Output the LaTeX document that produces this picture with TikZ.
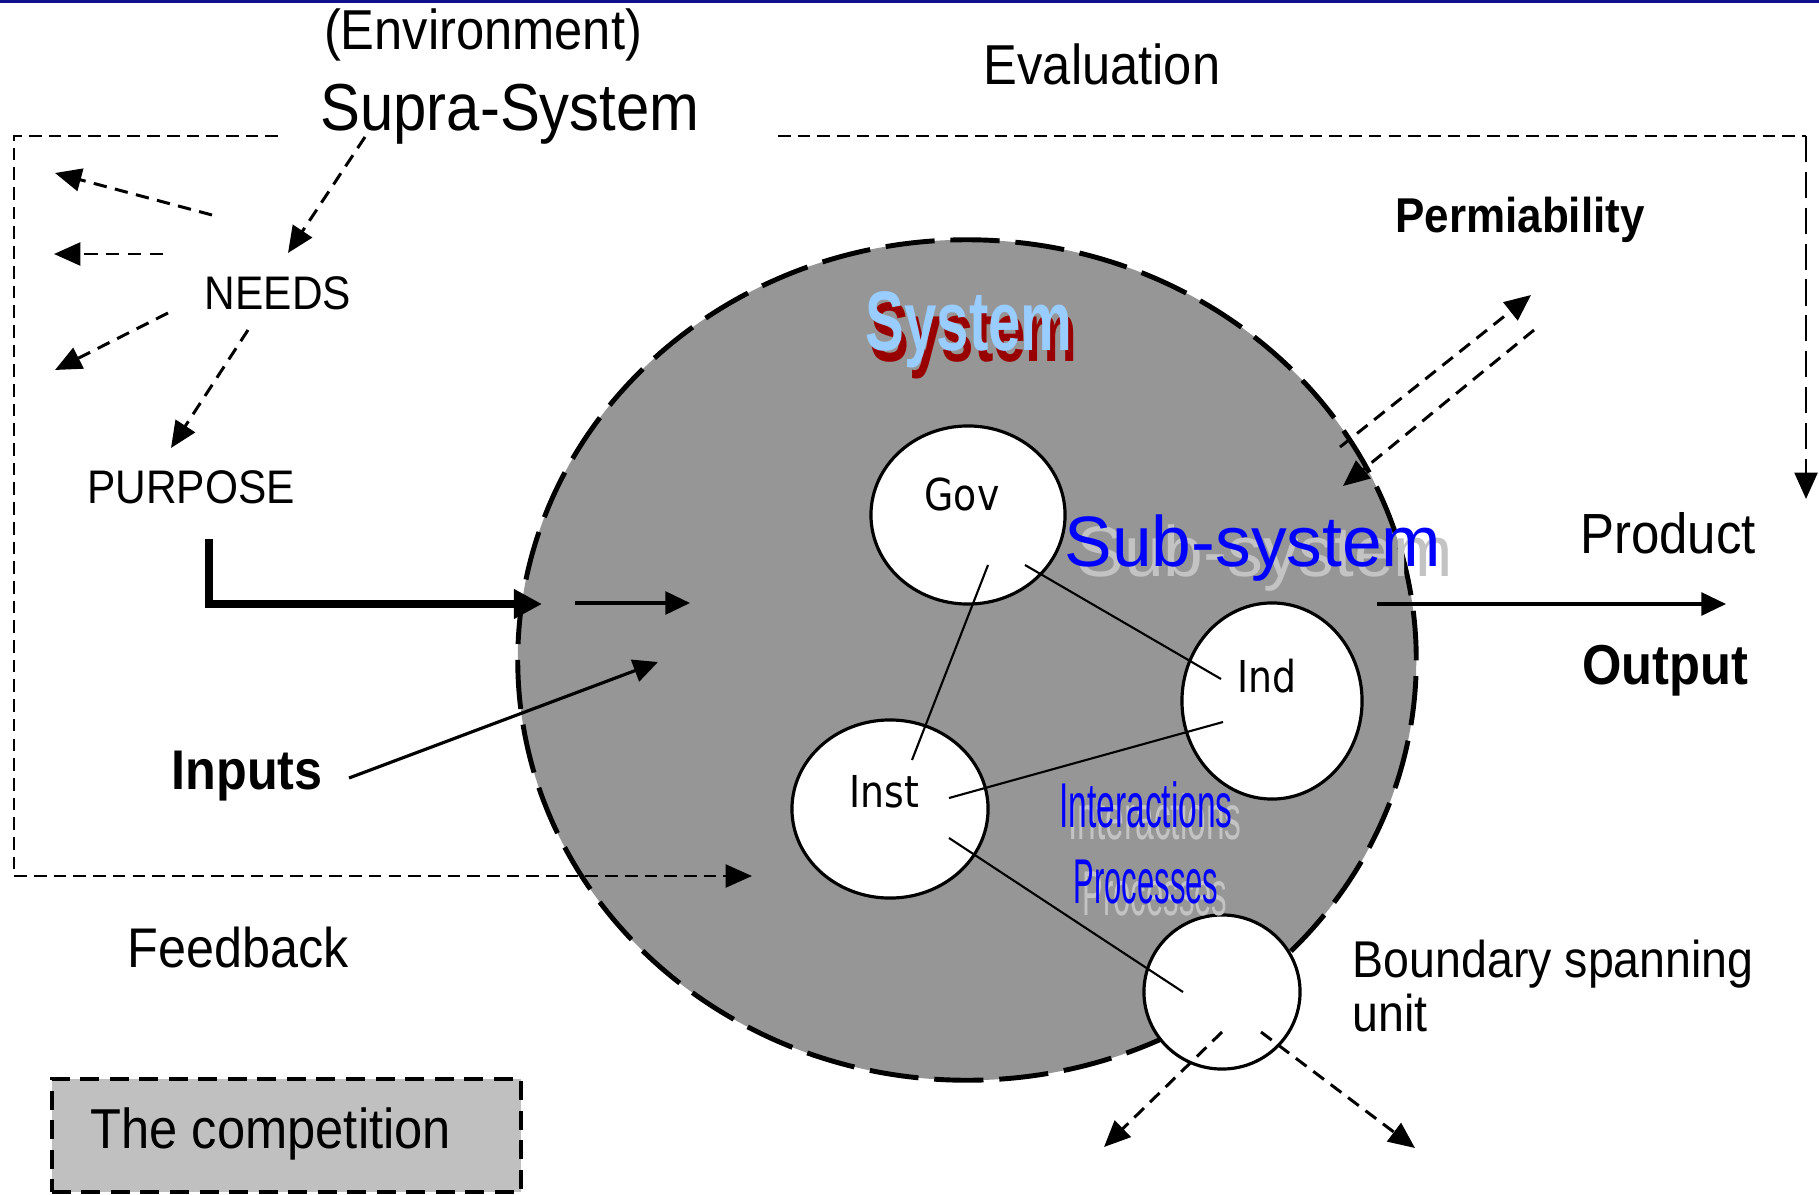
\documentclass[tikz,border=0pt]{standalone}
\usepackage{fontspec}
\setmainfont{Liberation Sans}[FakeStretch=0.9]
\newfontfamily\tahfont{DejaVu Sans}[FakeStretch=0.86]
\newfontfamily\arlfont{Liberation Sans}
\usetikzlibrary{arrows.meta,shapes.geometric,calc}
\definecolor{navyline}{RGB}{16,16,140}
\definecolor{sysgray}{RGB}{150,150,150}
\definecolor{compgray}{RGB}{192,192,192}
\definecolor{lightblue}{RGB}{153,204,255}
\definecolor{darkred}{RGB}{153,0,0}
\definecolor{shadowgray}{RGB}{195,195,195}
\newcommand\fsz[1]{\fontsize{#1}{#1}\selectfont}
\begin{document}
\begin{tikzpicture}[x=0.01cm,y=-0.01cm,
  txt/.style={inner sep=0pt, anchor=base},
  ell/.style={ellipse, draw, fill=white, line width=0.9pt, inner sep=0pt},
  link/.style={line width=0.6pt},
  dasharr/.style={line width=0.85pt, dash pattern=on 3.8pt off 2.4pt, -{Triangle[length=7.5pt,width=6.5pt]}},
  framel/.style={line width=0.8pt, dash pattern=on 3.6pt off 2pt},
  thinarr/.style={line width=0.9pt, -{Triangle[length=7pt,width=6.5pt]}}
]
\useasboundingbox (0,0) rectangle (1819,1194);
\fill[navyline] (0,0) rectangle (1819,3);

% frame coordinates
\coordinate (fTLe) at (278,136);
\coordinate (fTL) at (14,136);
\coordinate (fBL) at (14,876);
\coordinate (fBtip) at (752,876);
\coordinate (fTRs) at (778,136);
\coordinate (fTR) at (1806,136);
\coordinate (fRtip) at (1806,499);

% system circle
\node[ellipse, fill=sysgray, draw, line width=1.4pt, dash pattern=on 14pt off 4.5pt,
      minimum width=8.98cm, minimum height=8.4cm, inner sep=0pt] (system) at (967,660) {};

% competition box
\node[draw, fill=compgray, line width=1.1pt, dash pattern=on 5.4pt off 3pt,
      minimum width=4.69cm, minimum height=1.13cm, inner sep=0pt] (compbox) at (286.5,1135.5) {};
\node[txt, anchor=base west, font=\fsz{16}] (comp) at (90,1148) {The competition};

% frame lines
\draw[framel, -{Triangle[length=7.5pt,width=6.5pt]}] (fTLe) -- (fTL) -- (fBL) -- (fBtip);
\draw[framel] (fTRs) -- (fTR);
\draw[line width=0.8pt, dash pattern=on 7.4pt off 2.8pt, -{Triangle[length=7.5pt,width=6.5pt]}] (fTR) -- (fRtip);

% subsystem ellipses
\node[ell, minimum width=1.94cm, minimum height=1.78cm] (gov) at (968,515) {};
\node[ell, minimum width=1.80cm, minimum height=1.96cm] (ind) at (1272,701) {};
\node[ell, minimum width=1.96cm, minimum height=1.78cm] (inst) at (890,809) {};
\node[ell, minimum width=1.56cm, minimum height=1.54cm] (bsu) at (1222,992) {};

% links
\draw[link] ($(gov.center)+(20,50)$) -- ($(inst.center)+(22,-49)$);
\draw[link] ($(gov.center)+(57,50)$) -- ($(ind.center)+(-51,-22)$);
\draw[link] ($(inst.center)+(59,-11)$) -- ($(ind.center)+(-49,21)$);
\draw[link] ($(inst.center)+(59,29)$) -- ($(bsu.center)+(-39,0)$);

% node labels
\node[txt, font=\tahfont\fsz{12.5}] (govt) at (962,510) {Gov};
\node[txt, font=\tahfont\fsz{12.5}] (indt) at (1267,692) {Ind};
\node[txt, font=\tahfont\fsz{12.5}] (instt) at (884,807) {Inst};

% big labels
\node[txt, text=darkred] (sysshadow) at (974,361) {\scalebox{0.69}[1]{\arlfont\bfseries\fsz{24}System}};
\node[txt, text=lightblue] (syst) at (969,350) {\scalebox{0.69}[1]{\arlfont\bfseries\fsz{24}System}};
\node[txt, text=shadowgray] (subshadow) at (1265,576) {\arlfont\fsz{20.3}Sub-system};
\node[txt, text=blue] (subt) at (1253,566) {\arlfont\fsz{20.3}Sub-system};
\node[txt, text=shadowgray] (intshadow) at (1155,839) {\scalebox{0.53}[1]{\arlfont\fsz{18}Interactions}};
\node[txt, text=blue] (intt) at (1146,827) {\scalebox{0.53}[1]{\arlfont\fsz{18}Interactions}};
\node[txt, text=shadowgray] (procshadow) at (1155,915) {\scalebox{0.49}[1]{\arlfont\fsz{18}Processes}};
\node[txt, text=blue] (proct) at (1146,903) {\scalebox{0.49}[1]{\arlfont\fsz{18}Processes}};

% other texts
\node[txt, font=\fsz{16}] (env) at (483,50) {(Environment)};
\node[txt, font=\fsz{18.9}] (supra) at (510,130) {Supra-System};
\node[txt, font=\fsz{16}] (eval) at (1102,85) {Evaluation};
\node[txt, font=\fsz{13.4}] (needs) at (278,309) {NEEDS};
\node[txt, font=\fsz{13.4}] (purpose) at (191,503) {PURPOSE};
\node[txt, font=\bfseries\fsz{13.9}] (perm) at (1520,232) {Permiability};
\node[txt, font=\fsz{16.1}] (product) at (1668,553) {Product};
\node[txt, font=\bfseries\fsz{16}] (output) at (1665,684) {Output};
\node[txt, font=\bfseries\fsz{15.9}] (inputs) at (247,789) {Inputs};
\node[txt, font=\fsz{15.9}] (feedback) at (238,967) {Feedback};
\node[inner sep=0pt, anchor=north west, align=left, font=\fontsize{14.7}{15.4}\selectfont] (bsut) at (1352,939) {Boundary spanning\\unit};

% arrow end points
\coordinate (sn1) at (365,137);  \coordinate (sn2) at (288,253);
\coordinate (np1) at (248,330);  \coordinate (np2) at (171,448);
\coordinate (na1) at (212,215);  \coordinate (na1t) at (55,173);
\coordinate (na2) at (163,254);  \coordinate (na2t) at (54,254);
\coordinate (na3) at (168,313);  \coordinate (na3t) at (55,370);
\coordinate (pu1) at (209,539);  \coordinate (pu2) at (542,604);
\coordinate (ia1) at (575,603);  \coordinate (ia2) at (690,603);
\coordinate (in1) at (349,778);  \coordinate (in2) at (658,662);
\coordinate (ou1) at (1377,604); \coordinate (ou2) at (1726,604);
\coordinate (pe1) at (1340,447); \coordinate (pe1t) at (1531,295);
\coordinate (pe2) at (1534,330); \coordinate (pe2t) at (1343,486);
\coordinate (bo1) at (1222,1032); \coordinate (bo1t) at (1104,1147);
\coordinate (bo2) at (1261,1032); \coordinate (bo2t) at (1415,1148);

\draw[dasharr] (sn1) -- (sn2);
\draw[dasharr] (np1) -- (np2);
\draw[dasharr] (na1) -- (na1t);
\draw[dasharr] (na2) -- (na2t);
\draw[dasharr] (na3) -- (na3t);
\draw[line width=2pt, -{Triangle[length=8pt,width=8pt]}] (pu1) |- (pu2);
\draw[thinarr] (ia1) -- (ia2);
\draw[thinarr] (in1) -- (in2);
\draw[thinarr] (ou1) -- (ou2);
\draw[dasharr] (pe1) -- (pe1t);
\draw[dasharr] (pe2) -- (pe2t);
\draw[dasharr] (bo1) -- (bo1t);
\draw[dasharr] (bo2) -- (bo2t);
\end{tikzpicture}
\end{document}
